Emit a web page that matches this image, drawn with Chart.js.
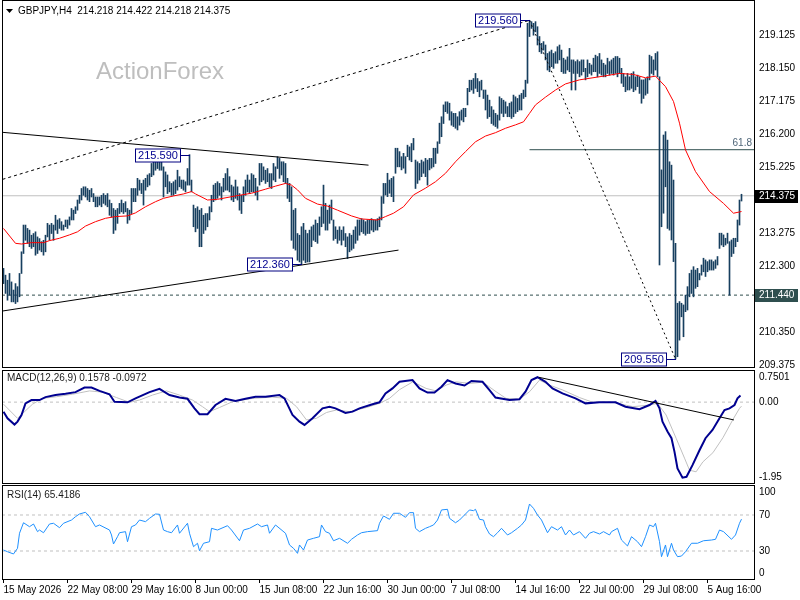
<!DOCTYPE html>
<html><head><meta charset="utf-8">
<script src="https://cdn.jsdelivr.net/npm/chart.js@4.4.1/dist/chart.umd.min.js"></script>
<style>
html,body{margin:0;padding:0;background:#fff;}
#wrap{position:relative;width:800px;height:600px;overflow:hidden;background:#fff;}
canvas{position:absolute;left:0;top:0;width:800px;height:600px;}
</style></head><body>
<div id="wrap">
<canvas id="cMain" width="800" height="600"></canvas>
<canvas id="cMacd" width="800" height="600"></canvas>
<canvas id="cRsi" width="800" height="600"></canvas>
</div>
<script>
// ---------------- DATA ----------------
const symbol = 'GBPJPY,H4';
const lastOHLC = [214.218, 214.422, 214.218, 214.375];
const watermark = 'ActionForex';

const highs = [
212.23,212.03,211.88,212.08,211.83,211.59,211.78,211.69,212.08,212.72,
213.51,213.51,213.41,213.36,213.21,213.26,213.31,213.16,213.11,213.02,
213.06,213.21,213.56,213.51,213.56,213.51,213.80,213.66,213.70,213.61,
213.51,213.66,213.66,213.75,214.00,213.95,214.05,214.25,214.39,214.59,
214.64,214.64,214.59,214.54,214.59,214.44,214.34,214.34,214.34,214.39,
214.44,214.39,214.44,214.25,214.15,214.00,213.95,214.00,214.15,214.25,
214.15,214.20,214.00,213.95,214.59,214.59,214.59,214.89,214.84,214.74,
214.84,214.89,214.99,215.03,215.33,215.38,215.48,215.50,215.38,215.38,
215.23,215.08,214.99,214.79,214.74,214.79,214.84,215.13,214.94,214.84,
214.84,214.79,215.18,215.59,214.84,214.10,214.00,214.05,213.95,214.00,
213.80,213.85,213.85,214.05,214.39,214.69,214.74,214.79,214.74,214.64,
214.89,215.03,215.18,214.94,214.69,214.64,214.84,214.64,214.44,214.39,
214.64,214.84,214.99,214.84,215.03,214.99,214.89,214.64,215.33,215.33,
215.23,215.13,215.18,215.03,215.03,215.33,215.23,215.53,215.48,215.38,
215.38,215.33,214.89,214.74,214.64,213.95,214.00,213.26,213.21,213.46,
213.56,213.36,213.26,213.36,213.46,213.51,213.66,213.56,213.75,214.05,
214.69,214.15,213.95,214.10,214.25,213.66,213.46,213.36,213.46,213.36,
213.46,213.26,213.16,213.26,213.21,213.36,213.46,213.66,213.66,213.70,
213.66,213.61,213.66,213.66,213.70,213.66,213.66,213.70,213.75,214.35,
214.74,214.74,215.04,214.84,214.89,214.94,215.78,215.78,215.68,215.53,
215.63,215.53,215.87,215.82,215.92,216.07,215.43,215.38,215.33,215.43,
215.38,215.48,215.43,215.48,215.48,215.78,215.78,215.97,216.52,216.71,
217.06,217.15,217.15,217.11,216.86,216.81,216.81,216.71,216.86,216.91,
216.96,216.96,217.55,217.79,217.79,217.84,217.99,217.84,217.75,217.79,
217.50,217.50,217.35,217.20,217.01,216.91,216.81,216.76,217.30,217.25,
217.20,217.15,217.01,217.11,217.15,217.35,217.30,217.25,217.35,217.40,
217.50,217.79,219.47,219.56,219.52,219.47,219.52,219.37,219.08,218.88,
218.93,218.83,218.58,218.63,218.68,218.58,218.63,218.78,218.83,218.68,
218.44,218.39,218.48,218.73,218.39,218.39,218.34,218.39,218.34,218.39,
218.39,218.14,218.39,218.29,218.24,218.44,218.53,218.49,218.58,218.39,
218.29,218.24,218.44,218.34,218.39,218.44,218.49,218.49,218.44,218.14,
217.99,217.89,217.99,217.89,217.99,218.04,217.89,217.94,217.89,217.80,
217.80,217.84,217.89,218.53,218.49,218.39,218.58,218.63,217.89,215.14,
216.17,216.27,216.02,215.38,215.28,214.84,212.97,211.20,211.25,211.20,
211.15,211.44,211.69,212.08,212.18,212.28,212.18,212.23,212.08,212.33,
212.53,212.48,212.43,212.48,212.48,212.43,212.48,212.58,213.27,213.27,
213.22,213.12,213.27,213.02,213.07,213.12,213.12,213.66,214.25,214.42];

const lows = [
211.78,211.49,211.29,211.44,211.24,211.24,211.19,211.24,211.39,212.08,
212.67,213.06,212.97,212.87,212.82,212.87,212.62,212.67,212.77,212.72,
212.62,212.72,213.16,213.06,213.26,213.06,213.36,213.26,213.41,213.36,
213.36,213.46,213.41,213.51,213.66,213.66,213.85,213.95,214.15,214.25,
214.39,214.34,214.25,214.20,214.34,214.20,214.05,214.05,214.10,214.05,
214.15,214.10,214.05,213.80,213.75,213.26,213.36,213.56,213.85,213.90,
213.85,213.90,213.56,213.66,213.85,214.20,214.20,214.39,214.54,214.44,
214.10,214.54,214.64,214.69,214.94,214.99,215.13,215.18,215.13,215.13,
214.34,214.64,214.44,214.49,214.39,214.39,214.44,214.54,214.64,214.59,
214.54,214.49,214.69,214.69,214.49,213.46,213.31,213.41,212.87,212.87,
213.26,213.36,213.46,213.66,213.90,214.20,214.25,214.30,214.39,214.25,
214.49,214.54,214.54,214.49,214.25,214.20,214.30,214.25,213.95,213.85,
214.20,214.39,214.49,214.44,214.49,214.49,214.39,214.25,214.69,214.79,
214.84,214.74,214.79,214.64,214.59,214.84,214.79,215.18,214.89,214.99,
214.79,214.74,214.30,214.20,213.06,212.82,212.77,212.47,212.42,212.36,
212.47,212.40,212.42,212.42,212.87,213.06,213.02,212.97,213.21,213.46,
213.56,213.36,213.36,213.56,213.66,213.06,213.11,212.97,213.06,212.92,
213.06,212.87,212.52,212.72,212.77,212.82,212.97,213.06,213.21,213.31,
213.26,213.21,213.26,213.26,213.36,213.31,213.36,213.36,213.46,213.66,
214.15,214.40,214.35,214.45,214.35,214.20,215.04,215.23,215.23,215.14,
215.19,215.04,215.53,215.43,215.38,215.73,214.59,214.74,214.84,214.94,
215.04,214.94,214.69,215.14,215.19,215.23,215.33,215.63,215.92,216.12,
216.51,216.86,216.81,216.61,216.46,216.42,216.37,216.32,216.46,216.61,
216.56,216.71,217.06,217.45,217.50,217.40,217.55,217.45,217.30,217.50,
217.25,216.91,216.66,216.71,216.51,216.46,216.42,216.37,216.61,216.81,
216.71,216.81,216.71,216.71,216.66,216.71,216.81,216.86,216.91,216.91,
217.25,217.30,217.70,219.08,219.32,219.12,219.22,218.83,218.63,218.58,
218.68,218.39,218.09,218.04,218.19,218.14,218.29,218.29,218.39,218.04,
217.99,217.99,218.09,218.04,217.50,217.99,217.50,217.99,217.89,217.94,
218.04,217.80,217.89,217.99,217.94,218.04,218.04,217.89,217.99,217.94,
217.89,217.89,217.99,217.94,217.99,217.94,217.99,217.89,217.99,217.70,
217.60,217.45,217.50,217.50,217.55,217.45,217.50,217.60,217.40,217.11,
217.25,217.35,217.40,217.80,217.99,217.94,218.09,217.89,212.33,213.46,
213.86,214.64,213.41,213.36,213.07,212.43,209.55,209.62,210.11,210.80,
210.21,210.95,211.00,211.39,211.49,211.39,211.64,211.69,211.89,212.03,
212.13,211.99,212.13,212.18,212.18,212.18,212.23,212.33,212.82,212.92,
212.87,212.92,212.97,211.44,212.58,212.67,212.87,213.02,213.51,214.22];

// moving average (bar, value)
const maPts = [[0,213.41],[6,212.97],[9,212.95],[14,212.99],[20,212.99],[23,213.05],[28,213.12],[33,213.22],[37,213.31],[41,213.48],[46,213.61],[51,213.71],[56,213.76],[62,213.78],[66,213.87],[71,214.05],[76,214.20],[80,214.30],[85,214.37],[90,214.43],[94,214.50],[96,214.43],[102,214.25],[107,214.27],[116,214.37],[124,214.45],[131,214.57],[136,214.66],[141,214.74],[144,214.69],[147,214.55],[151,214.30],[157,214.13],[162,214.07],[167,213.95],[174,213.78],[179,213.69],[187,213.66],[191,213.76],[195,213.86],[200,214.05],[205,214.40],[211,214.60],[216,214.79],[221,215.04],[226,215.38],[231,215.68],[236,215.97],[241,216.14],[246,216.24],[251,216.37],[256,216.47],[260,216.56],[263,216.81],[266,217.06],[271,217.29],[276,217.50],[281,217.68],[288,217.80],[300,217.91],[308,217.99],[315,217.96],[321,217.86],[326,217.91],[331,217.60],[335,217.16],[338,216.52],[341,215.73],[346,215.09],[353,214.50],[360,214.15],[365,213.86],[369,213.91]];

// MACD main and signal (bar, value)
const macdParams = [12, 26, 9];
const macdLast = 0.1578, signalLast = -0.0972;
const macdPts = [[0,-0.23],[2,-0.39],[5.5,-0.54],[7,-0.47],[9,-0.31],[11,-0.03],[14,0.05],[18,0.05],[21,0.12],[26,0.17],[31,0.20],[36,0.24],[40.5,0.35],[44,0.35],[48,0.27],[53,0.19],[55.5,0.01],[62,-0.005],[66,0.09],[73,0.24],[78,0.32],[83,0.17],[88,0.11],[92,0.08],[95.5,-0.15],[98,-0.29],[102,-0.29],[106,-0.07],[111,0.08],[116,0.03],[121,0.08],[126,0.13],[131,0.13],[138,0.17],[140.5,0.09],[144.5,-0.31],[148,-0.47],[150.5,-0.55],[154.5,-0.39],[159.5,-0.15],[163,-0.11],[166,-0.15],[171,-0.26],[174.5,-0.23],[178,-0.15],[184.5,-0.05],[188,-0.005],[191,0.21],[194.5,0.33],[198,0.49],[204.5,0.53],[208,0.33],[212,0.23],[215.5,0.23],[219,0.37],[222,0.53],[226,0.45],[230.5,0.40],[234,0.51],[239.5,0.49],[243,0.29],[246,0.11],[253,0.05],[258,0.07],[261,0.25],[264,0.53],[267,0.60],[271,0.49],[274.5,0.33],[279.5,0.21],[286,0.09],[291,-0.03],[298,-0.005],[306,-0.005],[311,-0.11],[318,-0.17],[323,-0.07],[326,0.03],[328,-0.15],[329.5,-0.47],[332,-0.71],[334,-0.87],[335.5,-1.20],[337,-1.60],[339.5,-1.82],[341.5,-1.80],[344.5,-1.52],[348,-1.16],[351,-0.87],[354.5,-0.67],[358,-0.39],[360.5,-0.19],[363,-0.15],[365.5,-0.07],[367,0.09],[368.5,0.158]];
const signalPts = [[0,-0.05],[7,-0.39],[14.5,-0.05],[19.5,0.09],[26.5,0.13],[34.5,0.19],[43,0.27],[49.5,0.24],[56.5,0.11],[63,-0.005],[68,0.05],[74.5,0.17],[81.5,0.27],[88,0.17],[94.5,0.05],[99.5,-0.11],[103,-0.23],[108,-0.13],[114.5,0.01],[124.5,0.09],[134.5,0.12],[141.5,0.09],[146.5,-0.11],[151.5,-0.43],[156.5,-0.39],[161.5,-0.25],[166.5,-0.19],[173,-0.23],[181.5,-0.13],[188,-0.03],[193,0.09],[198,0.30],[204.7,0.49],[211.3,0.33],[216.3,0.27],[221.3,0.41],[226.3,0.49],[233,0.45],[239.7,0.48],[246.3,0.25],[251.3,0.09],[258,0.07],[263,0.25],[268,0.53],[273,0.41],[279.7,0.29],[288,0.11],[294.7,-0.005],[304.7,-0.005],[314.7,-0.11],[323,-0.07],[327,-0.03],[331.3,-0.31],[336.3,-0.87],[340.5,-1.35],[343,-1.64],[346.3,-1.68],[349.7,-1.44],[354.7,-1.22],[359.7,-0.86],[364.7,-0.42],[368,-0.15],[369,-0.097]];

// RSI (bar, value)
const rsiPeriod = 14, rsiLast = 65.4186;
const rsiPts = [[0,31.1],[2,29.2],[5,26.7],[7,33.0],[8,49.7],[10,61.4],[13,57.0],[15,60.0],[17,51.5],[18,53.3],[20,50.3],[23,60.0],[25,60.8],[28,55.9],[30,60.8],[34,64.4],[36,68.1],[38,71.1],[41,73.0],[43,68.1],[46,57.0],[48,58.9],[53,53.3],[54,47.8],[55,37.8],[57,45.9],[58,50.3],[61,51.5],[62,40.3],[64,57.0],[66,58.9],[68,64.4],[71,62.6],[73,66.3],[76,71.1],[78,70.8],[80,53.3],[82,51.5],[84,50.3],[87,58.9],[88,49.7],[92,60.8],[93,49.7],[95,34.8],[97,38.6],[98,30.3],[100,38.6],[103,40.3],[104,55.2],[107,53.3],[112,58.1],[114,53.3],[118,41.4],[120,53.3],[123,55.2],[127,60.0],[129,57.0],[132,58.9],[133,49.7],[136,58.9],[141,49.7],[143,36.7],[145,33.0],[147,27.4],[148,36.7],[150,31.1],[152,42.2],[155,44.1],[158,45.9],[159,58.9],[161,51.5],[163,49.7],[165,41.4],[168,44.1],[172,38.6],[174,43.0],[177,47.8],[179,50.3],[182,51.5],[187,52.6],[188,60.8],[190,68.9],[193,65.2],[195,71.9],[198,71.9],[201,67.4],[203,72.6],[205,72.6],[206,55.2],[208,51.5],[211,55.2],[213,57.0],[215,58.9],[217,64.4],[219,75.6],[222,76.3],[223,66.3],[226,61.4],[228,64.4],[233,75.6],[235,74.8],[236,76.3],[238,65.2],[240,64.4],[241,57.0],[243,48.9],[245,45.9],[247,50.3],[249,55.2],[252,47.8],[254,50.3],[257,55.2],[259,58.9],[261,64.4],[263,82.2],[265,77.4],[267,70.0],[269,64.4],[272,50.3],[274,57.0],[277,53.3],[279,57.0],[281,47.8],[283,53.3],[285,47.8],[288,51.5],[291,44.1],[293,49.7],[295,51.5],[298,48.9],[300,51.5],[303,47.8],[304,51.5],[307,55.2],[309,42.2],[312,35.6],[314,45.9],[317,40.3],[319,34.8],[321,45.9],[323,58.9],[325,57.0],[326,60.8],[328,40.3],[329,23.7],[331,36.7],[332,23.7],[334,38.6],[335,31.1],[337,23.7],[339,24.4],[341,29.2],[344,38.6],[347,38.6],[350,41.4],[354,42.2],[356,43.0],[358,53.3],[360,51.5],[364,43.0],[366,47.8],[368,60.8],[369,65.4]];
const rsiLevels = [70, 30];

// drawn objects (bar, price)
const upperTrend = [[-0.5,216.25],[182.5,215.28]];
const lowerTrend = [[-0.5,210.97],[197.5,212.77]];
const dottedUp = [[-0.5,214.86],[263,219.56]];
const dottedDown = [[263,219.56],[336,209.55]];
const macdTrend = [[267.7,0.598],[365.2,-0.43]];
const swingLabels = [{bar:93,price:215.590},{bar:149,price:212.360},{bar:263,price:219.560},{bar:336,price:209.550}];
const fibLevel = 215.736, fibText = '61.8', fibStartBar = 263;
const supportLevel = 211.440;

// axes
const priceTicks = [219.125,218.150,217.175,216.200,215.225,214.250,213.275,212.300,211.325,210.350,209.375];
const priceMin = 209.316, priceMax = 220.130;
const macdTicks = [0.7501, 0, -1.95];
const macdTickText = ['0.7501','0.00','-1.95'];
const macdMin = -1.95, macdMax = 0.7501;
const rsiTicks = [100, 70, 30, 0];
const rsiMin = -1.1, rsiMax = 102.2;
const timeLabels = ['15 May 2026','22 May 08:00','29 May 16:00','8 Jun 00:00','15 Jun 08:00','22 Jun 16:00','30 Jun 00:00','7 Jul 08:00','14 Jul 16:00','22 Jul 00:00','29 Jul 08:00','5 Aug 16:00'];
const barsPerLabel = 32;

// ---------------- STYLE / HELPERS ----------------
const X_MIN = -0.75, X_MAX = 375.25;
const FONT = '"Liberation Sans", Arial, sans-serif';
const BAR_COLOR = '#173f5f';
const pts = a => a.map(p => ({x:p[0], y:p[1]}));
const hline = v => [{x:X_MIN, y:v}, {x:X_MAX, y:v}];
const lineDs = (data, color, width, dash, order) => ({type:'line', data, borderColor:color, borderWidth:width, borderDash:dash||[], pointRadius:0, fill:false, tension:0, order:order});
const noPad = s => { s.paddingTop = 0; s.paddingBottom = 0; s.paddingLeft = 0; s.paddingRight = 0; };

function xAxis(display){
  return {type:'linear', min:X_MIN, max:X_MAX, offset:false, display:display, grid:{display:false}, border:{display:false}};
}
function yAxis(min, max){
  return {type:'linear', position:'right', min, max, grid:{display:false, drawTicks:false}, border:{display:false},
    ticks:{display:false}, afterFit:s=>{ s.width=46; noPad(s); }};
}
const baseOpts = (padding) => ({
  responsive:false, animation:false, events:[], devicePixelRatio:1,
  layout:{padding},
  plugins:{legend:{display:false}, tooltip:{enabled:false}}
});

const panelBorder = {
  id:'panelBorder',
  afterDraw(chart){
    const {ctx, chartArea:a} = chart;
    ctx.save(); ctx.strokeStyle='#000'; ctx.lineWidth=1;
    ctx.strokeRect(a.left+0.5, a.top-0.5, a.right-a.left, a.bottom-a.top+1);
    ctx.restore();
  }
};
function sideLabels(chart, ticks, texts){
  const {ctx, chartArea:a, scales:{y}} = chart;
  ctx.save(); ctx.font='10px '+FONT; ctx.fillStyle='#000'; ctx.textAlign='left'; ctx.textBaseline='middle';
  ticks.forEach((v,i)=>{
    let py = y.getPixelForValue(v);
    py = Math.min(Math.max(py, a.top+6), a.bottom-6);
    ctx.fillText(texts[i], a.right+5, py);
  });
  ctx.restore();
}

// ---------------- MAIN PRICE CHART ----------------
const mainOverlay = {
  id:'mainOverlay',
  beforeDatasetsDraw(chart){
    const ctx = chart.ctx; ctx.save();
    ctx.font='24px '+FONT; ctx.fillStyle='#bebebe'; ctx.textAlign='left'; ctx.textBaseline='middle';
    ctx.fillText(watermark, 96, 72);
    ctx.restore();
  },
  afterDatasetsDraw(chart){
    const {ctx, chartArea:a, scales:{x,y}} = chart;
    ctx.save();
    ctx.font='10px '+FONT; ctx.fillStyle='#4f6679'; ctx.textAlign='right'; ctx.textBaseline='bottom';
    ctx.fillText(fibText, a.right-2, y.getPixelForValue(fibLevel)-1);
    ctx.font='11px '+FONT; ctx.textAlign='center'; ctx.textBaseline='middle';
    swingLabels.forEach(s=>{
      const bx = Math.round(x.getPixelForValue(s.bar));
      const py = Math.round(y.getPixelForValue(s.price))+0.5;
      const txt = s.price.toFixed(3);
      const w = Math.ceil(ctx.measureText(txt).width)+5, h=13;
      const right = bx-9.5, left = right-w;
      ctx.fillStyle='#fff'; ctx.fillRect(left, py-6.5, w, h);
      ctx.strokeStyle='#000080'; ctx.lineWidth=1; ctx.strokeRect(left, py-6.5, w, h);
      ctx.beginPath(); ctx.moveTo(right, py); ctx.lineTo(bx, py); ctx.stroke();
      ctx.fillStyle='#000090'; ctx.fillText(txt, left+w/2, py+0.5);
    });
    ctx.restore();
  },
  afterDraw(chart){
    const {ctx, chartArea:a, scales:{y}} = chart;
    ctx.save();
    ctx.fillStyle='#000';
    ctx.beginPath(); ctx.moveTo(6,9); ctx.lineTo(13,9); ctx.lineTo(9.5,13); ctx.closePath(); ctx.fill();
    ctx.font='10px '+FONT; ctx.textAlign='left'; ctx.textBaseline='middle';
    ctx.fillText(symbol+'  '+lastOHLC.map(v=>v.toFixed(3)).join(' '), 18, 11);
    [[lastOHLC[3],'#000000'],[supportLevel,'#2f4f4f']].forEach(([v,c])=>{
      const py = Math.round(y.getPixelForValue(v));
      ctx.fillStyle=c; ctx.fillRect(a.right+1, py-6, 43, 13);
      ctx.fillStyle='#fff'; ctx.fillText(v.toFixed(3), a.right+5, py+0.5);
    });
    ctx.restore();
  }
};

new Chart(document.getElementById('cMain'), {
  type:'bar',
  data:{datasets:[
    lineDs(hline(lastOHLC[3]), '#c0c0c0', 1, [], 20),
    lineDs(hline(supportLevel), '#2f4f4f', 1, [3,3], 19),
    lineDs([{x:fibStartBar, y:fibLevel},{x:X_MAX, y:fibLevel}], '#2f4f4f', 1, [], 18),
    {type:'bar', data:highs.map((h,i)=>({x:i, y:[lows[i], h]})), backgroundColor:BAR_COLOR, borderWidth:0, barThickness:1, grouped:false, order:10},
    lineDs(pts(maPts), '#ff0000', 1, [], 5),
    lineDs(pts(upperTrend), '#000', 1, [], 3),
    lineDs(pts(lowerTrend), '#000', 1, [], 3),
    lineDs(pts(dottedUp), '#000', 1, [3,3], 3),
    lineDs(pts(dottedDown), '#000', 1, [2,3], 3)
  ]},
  options:Object.assign(baseOpts({left:2, right:0, top:1, bottom:233}), {
    scales:{
      x:xAxis(false),
      y:{type:'linear', position:'right', min:priceMin, max:priceMax,
        grid:{display:false, drawTicks:false}, border:{display:false},
        afterBuildTicks:s=>{ s.ticks = priceTicks.map(v=>({value:v})); },
        afterFit:s=>{ s.width=46; noPad(s); },
        ticks:{padding:5, color:'#000', font:{family:FONT, size:10}, callback:v=>Number(v).toFixed(3)}}
    }
  }),
  plugins:[panelBorder, mainOverlay]
});

// ---------------- MACD ----------------
const macdOverlay = {
  id:'macdOverlay',
  afterDraw(chart){
    const {ctx, chartArea:a} = chart;
    ctx.save(); ctx.font='10px '+FONT; ctx.fillStyle='#1a1a1a'; ctx.textAlign='left'; ctx.textBaseline='middle';
    ctx.fillText('MACD('+macdParams.join(',')+') '+macdLast.toFixed(4)+' '+signalLast.toFixed(4), 7, a.top+7);
    ctx.restore();
    sideLabels(chart, macdTicks, macdTickText);
  }
};
new Chart(document.getElementById('cMacd'), {
  type:'line',
  data:{datasets:[
    lineDs(hline(0), '#c0c0c0', 1, [3,3], 20),
    lineDs(pts(signalPts), '#c0c0c0', 1, [], 10),
    lineDs(pts(macdPts), '#000090', 2, [], 5),
    lineDs(pts(macdTrend), '#000', 1, [], 3)
  ]},
  options:Object.assign(baseOpts({left:2, right:0, top:371, bottom:117}), {
    scales:{x:xAxis(false), y:yAxis(macdMin, macdMax)}
  }),
  plugins:[panelBorder, macdOverlay]
});

// ---------------- RSI ----------------
const rsiOverlay = {
  id:'rsiOverlay',
  afterDraw(chart){
    const {ctx, chartArea:a} = chart;
    ctx.save(); ctx.font='10px '+FONT; ctx.fillStyle='#1a1a1a'; ctx.textAlign='left'; ctx.textBaseline='middle';
    ctx.fillText('RSI('+rsiPeriod+') '+rsiLast.toFixed(4), 7, a.top+9);
    ctx.restore();
    sideLabels(chart, rsiTicks, rsiTicks.map(String));
  }
};
new Chart(document.getElementById('cRsi'), {
  type:'line',
  data:{datasets:[
    ...rsiLevels.map(l=>lineDs(hline(l), '#c0c0c0', 1, [3,3], 20)),
    lineDs(pts(rsiPts), '#1e90ff', 1, [], 5)
  ]},
  options:Object.assign(baseOpts({left:2, right:0, top:486, bottom:0}), {
    scales:{
      x:{type:'linear', min:X_MIN, max:X_MAX, offset:false, position:'bottom',
        afterBuildTicks:s=>{ s.ticks = timeLabels.map((t,k)=>({value:k*barsPerLabel})); },
        afterFit:s=>{ s.height=21; noPad(s); },
        grid:{display:true, drawOnChartArea:false, drawTicks:true, tickLength:4, color:'#000'},
        border:{display:false},
        ticks:{align:'start', padding:1, autoSkip:false, maxRotation:0, minRotation:0, color:'#000',
          font:{family:FONT, size:10}, callback:v=>timeLabels[Math.round(v/barsPerLabel)]}},
      y:yAxis(rsiMin, rsiMax)
    }
  }),
  plugins:[panelBorder, rsiOverlay]
});
</script>
</body></html>
